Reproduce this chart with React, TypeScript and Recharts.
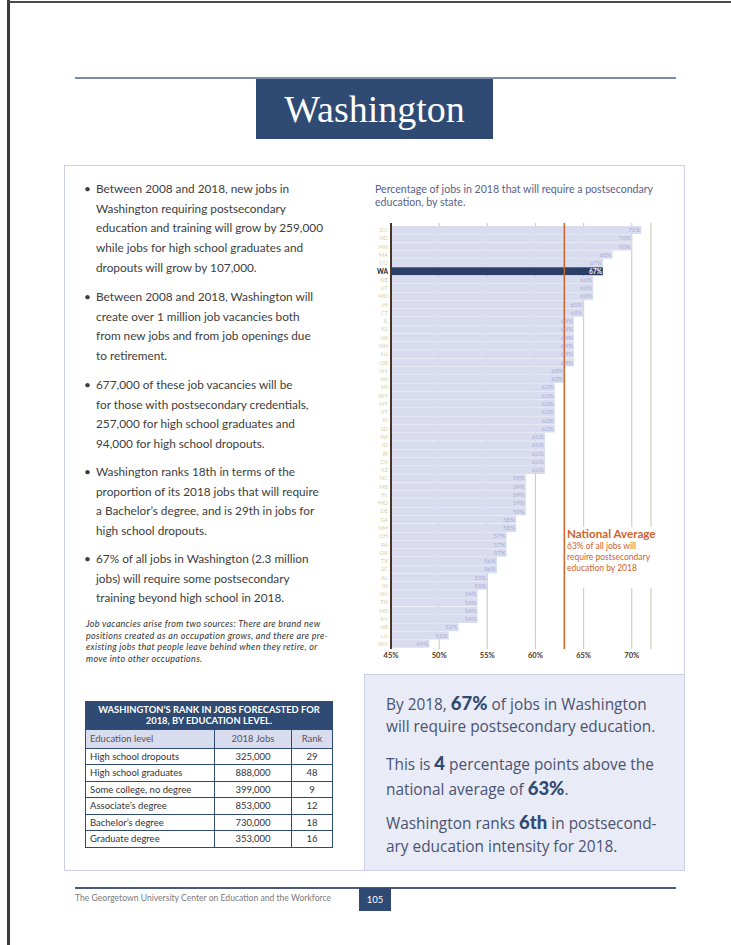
import React from "react";
import { Bar, BarChart, CartesianGrid, Cell, LabelList, ReferenceLine, XAxis, YAxis } from "recharts";

// states ordered as in the source chart, top to bottom
const states = [
  "DC", "ND", "MN", "MA", "CO", "WA", "NE", "UT", "MD", "HI", "CT", "IL", "KS", "VA", "NH", "NJ", "OR",
  "NY", "AK", "MI", "WY", "MT", "VT", "IA", "SD", "WI", "ID", "RI", "CA", "AZ", "NC", "ME", "FL", "MO",
  "DE", "GA", "NM", "OH", "PA", "OK", "TX", "SC", "AL", "IN", "NV", "TN", "MS", "KY", "AR", "LA", "WV",
];
const shares = [
  71, 70, 70, 68, 67, 67, 66, 66, 66, 65, 65, 64, 64, 64, 64, 64, 64,
  63, 63, 62, 62, 62, 62, 62, 62, 61, 61, 61, 61, 61, 59, 59, 59, 59,
  59, 58, 58, 57, 57, 57, 56, 56, 55, 55, 54, 54, 54, 54, 52, 51, 49,
];
const xTicks = [45, 50, 55, 60, 65, 70];
const nationalAverage = 63;
const highlight = "WA";

const eduLevels = ["High school dropouts", "High school graduates", "Some college, no degree", "Associate’s degree", "Bachelor’s degree", "Graduate degree"];
const eduJobs = ["325,000", "888,000", "399,000", "853,000", "730,000", "353,000"];
const eduRank = ["29", "48", "9", "12", "18", "16"];

const data = states.map((s, i) => ({ state: s, value: shares[i] }));

const NAVY = "#2f4a73";
const SANS = "Lato, 'Open Sans', sans-serif";

const StateTick = (props: any) => {
  const { x, y, payload } = props;
  const hi = payload.value === highlight;
  return (
    <text x={x} y={y} dy={2} textAnchor="end" fontFamily={SANS} fontSize={hi ? 6.5 : 5.8}
      fontWeight={hi ? 700 : 400} fill={hi ? "#222" : "#d8cfa8"}>
      {payload.value}
    </text>
  );
};

const EndLabel = (props: any) => {
  const { x, y, width, height, value, index } = props;
  const hi = states[index] === highlight;
  return (
    <text x={x + width - 1} y={y + height / 2} dy={2.2} textAnchor="end" fontFamily={SANS}
      fontSize={hi ? 6.5 : 6.2} fontWeight={hi ? 700 : 400} fill={hi ? "#fff" : "#a9aed6"}>
      {value}%
    </text>
  );
};

const StateChart = () => (
  <BarChart width={300} height={450} data={data} layout="vertical"
    margin={{ top: 8, right: 14, left: 0, bottom: 0 }} barCategoryGap={0}>
    <CartesianGrid horizontal={false} stroke="#d3cfb9" strokeWidth={1.2} />
    <XAxis type="number" domain={[45, 72]} ticks={xTicks} allowDataOverflow axisLine={false}
      tickLine={false} tickSize={0} tickMargin={4} height={16} interval={0}
      tickFormatter={(v) => `${v}%`}
      tick={{ fontSize: 7.5, fill: "#4a3526", fontFamily: SANS, fontWeight: 700 }} />
    <YAxis type="category" dataKey="state" width={26} interval={0} tickLine={false}
      tickSize={0} tickMargin={3} padding={{ top: 3, bottom: 1 }}
      axisLine={{ stroke: "#4a3526", strokeWidth: 2 }} tick={<StateTick />} />
    <Bar dataKey="value" isAnimationActive={false}>
      {data.map((d) => (
        <Cell key={d.state} fill={d.state === highlight ? "#2b3f66" : "#d9dcef"} />
      ))}
      <LabelList dataKey="value" content={<EndLabel />} />
    </Bar>
    <ReferenceLine x={nationalAverage} stroke="#d0622c" strokeWidth={1.5} />
  </BarChart>
);

const abs = (l: number, t: number, extra: React.CSSProperties = {}): React.CSSProperties => ({
  position: "absolute", left: l, top: t, ...extra,
});

const bodyText: React.CSSProperties = {
  fontFamily: SANS, fontSize: 11.8, lineHeight: "19.7px", color: "#3d3d3d", whiteSpace: "nowrap",
};

const Bullet = ({ top, lines }: { top: number; lines: string[] }) => (
  <div style={abs(84, top, bodyText)}>
    <span style={{ position: "absolute", left: 0, top: 0 }}>•</span>
    <div style={{ marginLeft: 12 }}>
      {lines.map((l, i) => (<div key={i}>{l}</div>))}
    </div>
  </div>
);

const boxText: React.CSSProperties = {
  fontFamily: "'Open Sans', sans-serif", fontSize: 15.4, color: "#4a5372", whiteSpace: "nowrap", lineHeight: "20px",
};
const Big = ({ children }: { children: React.ReactNode }) => (
  <span style={{ fontFamily: SANS, fontWeight: 900, fontSize: 18.5, color: NAVY }}>{children}</span>
);

const cell: React.CSSProperties = { border: `1px solid ${NAVY}`, padding: "0 4px", height: 15.5 };

export default function App() {
  return (
    <div style={{ position: "absolute", left: 0, top: 0, width: 731, height: 945, background: "#fff", overflow: "hidden" }}>
      {/* page edges */}
      <div style={abs(7, 0, { width: 3, height: 945, background: "#3a3a3a" })} />
      <div style={abs(7, 1, { width: 724, height: 2, background: "#4a4a4a" })} />

      {/* header */}
      <div style={abs(75, 77, { width: 601, height: 2, background: "#7b8cab" })} />
      <div style={abs(256, 79, { width: 237, height: 60, background: NAVY, color: "#fff",
        fontFamily: "'Liberation Serif', serif", fontSize: 38, textAlign: "center", lineHeight: "60px" })}>
        Washington
      </div>

      {/* content frame */}
      <div style={abs(64, 165, { width: 619, height: 704, border: "1.5px solid #cdd0e8" })} />

      <Bullet top={179} lines={[
        "Between 2008 and 2018, new jobs in",
        "Washington requiring postsecondary",
        "education and training will grow by 259,000",
        "while jobs for high school graduates and",
        "dropouts will grow by 107,000.",
      ]} />
      <Bullet top={287} lines={[
        "Between 2008 and 2018, Washington will",
        "create over 1 million job vacancies both",
        "from new jobs and from job openings due",
        "to retirement.",
      ]} />
      <Bullet top={375} lines={[
        "677,000 of these job vacancies will be",
        "for those with postsecondary credentials,",
        "257,000 for high school graduates and",
        "94,000 for high school dropouts.",
      ]} />
      <Bullet top={462} lines={[
        "Washington ranks 18th in terms of the",
        "proportion of its 2018 jobs that will require",
        "a Bachelor’s degree, and is 29th in jobs for",
        "high school dropouts.",
      ]} />
      <Bullet top={549} lines={[
        "67% of all jobs in Washington (2.3 million",
        "jobs) will require some postsecondary",
        "training beyond high school in 2018.",
      ]} />
      <div style={abs(86, 618, { fontFamily: SANS, fontStyle: "italic", fontSize: 9, lineHeight: "11.7px",
        color: "#333", whiteSpace: "nowrap", letterSpacing: 0.3 })}>
        <div>Job vacancies arise from two sources: There are brand new</div>
        <div>positions created as an occupation grows, and there are pre-</div>
        <div>existing jobs that people leave behind when they retire, or</div>
        <div>move into other occupations.</div>
      </div>

      {/* table */}
      <table style={{ ...abs(85, 701), width: 248, borderCollapse: "collapse", fontFamily: SANS, fontSize: 9.5, color: "#333" }}>
        <thead>
          <tr>
            <th colSpan={3} style={{ ...cell, background: NAVY, color: "#fff", fontWeight: 700, fontSize: 9.4,
              lineHeight: "10.5px", height: 25, padding: "1px 1px", textAlign: "center", whiteSpace: "nowrap" }}>
              WASHINGTON’S RANK IN JOBS FORECASTED FOR<br />2018, BY EDUCATION LEVEL.
            </th>
          </tr>
          <tr style={{ background: "#d9dcef", color: "#555" }}>
            <td style={{ ...cell, width: 120, height: 17.5 }}>Education level</td>
            <td style={{ ...cell, width: 68, textAlign: "center" }}>2018 Jobs</td>
            <td style={{ ...cell, textAlign: "center" }}>Rank</td>
          </tr>
        </thead>
        <tbody>
          {eduLevels.map((lvl, i) => (
            <tr key={lvl}>
              <td style={cell}>{lvl}</td>
              <td style={{ ...cell, textAlign: "center" }}>{eduJobs[i]}</td>
              <td style={{ ...cell, textAlign: "center" }}>{eduRank[i]}</td>
            </tr>
          ))}
        </tbody>
      </table>

      {/* chart */}
      <div style={abs(375, 183, { fontFamily: SANS, fontSize: 10.6, lineHeight: "13px", color: "#59618a", whiteSpace: "nowrap" })}>
        <div>Percentage of jobs in 2018 that will require a postsecondary</div>
        <div>education, by state.</div>
      </div>
      <div style={abs(365, 215)}>
        <StateChart />
      </div>
      <div style={abs(567, 527, { width: 92, height: 61, background: "#fff", fontFamily: SANS, color: "#d0622c", whiteSpace: "nowrap" })}>
        <div style={{ fontSize: 11.6, fontWeight: 700, lineHeight: "14px" }}>National Average</div>
        <div style={{ fontSize: 8.5, lineHeight: "11px" }}>63% of all jobs will</div>
        <div style={{ fontSize: 8.5, lineHeight: "11px" }}>require postsecondary</div>
        <div style={{ fontSize: 8.5, lineHeight: "11px" }}>education by 2018</div>
      </div>

      {/* summary box */}
      <div style={abs(364, 674, { width: 319, height: 195, background: "#e9ebf6", borderTop: "1.5px solid #cdd0e8", borderLeft: "1.5px solid #cdd0e8" })} />
      <div style={abs(386, 693, boxText)}>By 2018, <Big>67%</Big> of jobs in Washington</div>
      <div style={abs(386, 717, boxText)}>will require postsecondary education.</div>
      <div style={abs(386, 753, boxText)}>This is <Big>4</Big> percentage points above the</div>
      <div style={abs(386, 778, boxText)}>national average of <Big>63%</Big>.</div>
      <div style={abs(386, 812, boxText)}>Washington ranks <Big>6th</Big> in postsecond-</div>
      <div style={abs(386, 837, boxText)}>ary education intensity for 2018.</div>

      {/* footer */}
      <div style={abs(75, 887, { width: 601, height: 1.5, background: "#4b5b80" })} />
      <div style={abs(75, 893, { fontFamily: SANS, fontSize: 8.6, color: "#7a7a7a", whiteSpace: "nowrap" })}>
        The Georgetown University Center on Education and the Workforce
      </div>
      <div style={abs(359, 888, { width: 32, height: 23, background: NAVY, color: "#fff", fontFamily: SANS,
        fontSize: 9.5, textAlign: "center", lineHeight: "23px" })}>
        105
      </div>
    </div>
  );
}
